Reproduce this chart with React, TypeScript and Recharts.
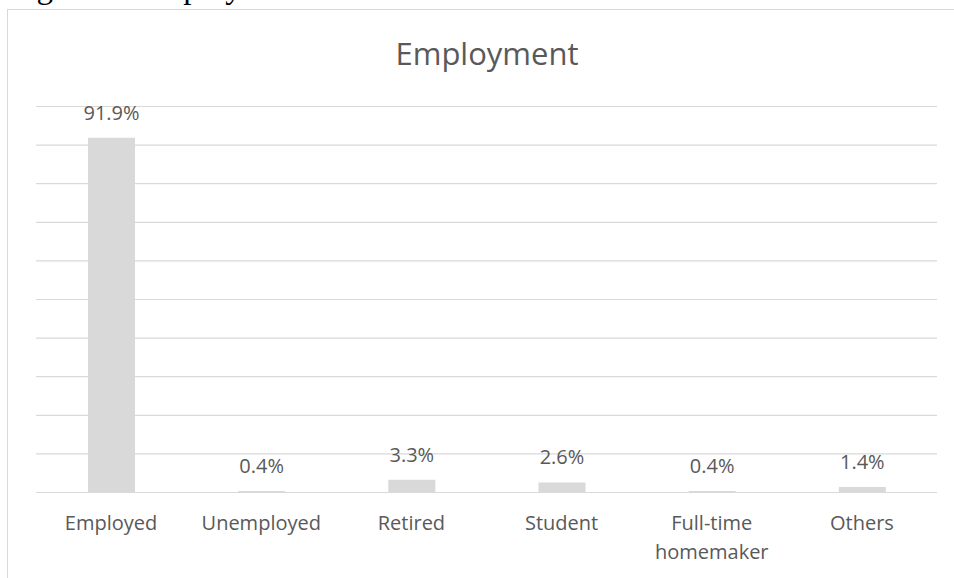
import React from 'react';
import { BarChart, Bar, XAxis, YAxis, CartesianGrid, LabelList } from 'recharts';

const categories = ['Employed', 'Unemployed', 'Retired', 'Student', 'Full-time homemaker', 'Others'];
const shares = [91.9, 0.4, 3.3, 2.6, 0.4, 1.4];
const yTicks = [0, 10, 20, 30, 40, 50, 60, 70, 80, 90, 100];

const data = categories.map((name, i) => ({ name, value: shares[i] }));

const FONT = '"Open Sans", sans-serif';
const TEXT = '#595959';
const GRID = '#d9d9d9';

const CategoryTick = (props: any) => {
  const { x, y, payload } = props;
  const label: string = payload.value;
  const lines = label.length > 12 ? label.split(' ') : [label];
  return (
    <text x={x} y={y} textAnchor="middle" fill={TEXT} fontSize={20} fontFamily={FONT}>
      {lines.map((line, i) => (
        <tspan key={i} x={x} dy={i === 0 ? 37.5 : 28.5}>
          {line}
        </tspan>
      ))}
    </text>
  );
};

export default function App() {
  return (
    <div style={{ position: 'absolute', left: 0, top: 0, width: 954, height: 578, overflow: 'hidden', background: '#fff' }}>
      <svg width={954} height={578} style={{ position: 'absolute', left: 0, top: 0 }}>
        {/* caption of the page above the chart, only its lower edge shows */}
        <text x={9} y={-2} fontFamily='"Liberation Serif", "Times New Roman", serif' fontSize={33} fill="#000">
          Figure 3: Employment status
        </text>
        <rect x={7.5} y={9.5} width={1000} height={700} fill="none" stroke={GRID} strokeWidth={1} />
      </svg>
      <div style={{ position: 'absolute', left: 0, top: 0 }}>
        <BarChart width={954} height={578} data={data} margin={{ top: 106.5, right: 17, bottom: 0, left: 36 }}>
          <CartesianGrid vertical={false} stroke={GRID} strokeWidth={1.2} />
          <YAxis hide domain={[0, 100]} ticks={yTicks} />
          <XAxis
            dataKey="name"
            height={85.5}
            axisLine={false}
            tickLine={false}
            tickSize={0}
            tickMargin={0}
            interval={0}
            tick={<CategoryTick />}
          />
          <Bar dataKey="value" fill={GRID} barSize={47} isAnimationActive={false}>
            <LabelList
              dataKey="value"
              position="top"
              offset={18}
              formatter={(v: any) => `${v}%`}
              fill={TEXT}
              fontSize={20}
              fontFamily={FONT}
            />
          </Bar>
        </BarChart>
      </div>
      <svg width={954} height={100} style={{ position: 'absolute', left: 0, top: 0, pointerEvents: 'none' }}>
        <text x={487} y={65} textAnchor="middle" fill={TEXT} fontSize={31} fontFamily={FONT}>
          Employment
        </text>
      </svg>
    </div>
  );
}
